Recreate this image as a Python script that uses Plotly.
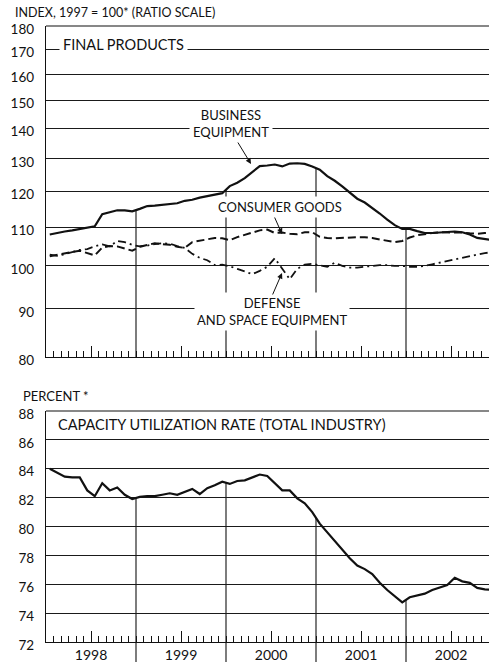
import numpy as np
import plotly.graph_objects as go

# ---------------- data ----------------
YEARS = ["1998", "1999", "2000", "2001", "2002"]
MONTHS = [f"{y}-{m:02d}" for y in YEARS for m in range(1, 13)]

BUSINESS_EQUIPMENT = [
    108.0, 108.5, 108.8, 109.1, 109.4, 109.8, 110.2, 113.5, 114.1, 114.6, 114.6, 114.3,
    115.0, 115.8, 115.9, 116.2, 116.5, 116.6, 117.3, 117.6, 118.2, 118.7, 119.1, 119.5,
    121.6, 122.6, 124.0, 125.8, 127.7, 127.9, 128.2, 127.6, 128.5, 128.6, 128.4, 127.6,
    126.6, 124.6, 123.2, 121.5, 119.6, 117.9, 116.8, 115.3, 113.7, 112.0, 110.5, 109.5,
    109.5, 108.9, 108.4, 108.4, 108.5, 108.6, 108.8, 108.6, 108.0, 107.1, 106.8, 106.5,
]
CONSUMER_GOODS = [
    102.4, 102.8, 103.2, 103.5, 103.8, 103.2, 102.6, 104.6, 105.0, 104.9, 104.4, 103.8,
    104.8, 105.3, 105.7, 105.5, 105.3, 104.8, 104.5, 106.0, 106.4, 106.8, 107.1, 107.0,
    106.5, 107.3, 107.8, 108.5, 109.1, 109.3, 108.4, 108.5, 108.2, 108.1, 108.6, 108.6,
    107.4, 107.1, 107.0, 107.1, 107.3, 107.3, 107.3, 107.1, 106.7, 106.3, 106.0, 106.3,
    107.2, 107.8, 108.2, 108.4, 108.6, 108.6, 108.6, 108.5, 108.3, 108.2, 108.4, 108.5,
]
DEFENSE_SPACE = [
    102.8, 102.5, 102.9, 103.4, 104.0, 104.2, 104.9, 105.4, 104.9, 106.3, 106.0, 105.3,
    104.9, 105.1, 105.5, 105.7, 105.6, 105.0, 104.5, 103.0, 102.0, 101.4, 100.2, 100.3,
    99.9, 99.3, 98.6, 98.0, 98.8, 99.8, 101.9, 99.2, 96.8, 99.3, 100.3, 100.5,
    100.2, 99.8, 100.8, 100.0, 99.6, 99.6, 99.8, 100.0, 100.2, 100.2, 100.0, 100.0,
    99.8, 99.8, 100.0, 100.4, 100.8, 101.3, 101.6, 102.0, 102.4, 102.8, 103.2, 103.4,
]
CAPACITY_UTILIZATION = [
    84.0, 83.7, 83.45, 83.4, 83.4, 82.5, 82.1, 83.0, 82.5, 82.7, 82.2, 81.9,
    82.05, 82.1, 82.1, 82.2, 82.3, 82.2, 82.4, 82.6, 82.25, 82.65, 82.85, 83.1,
    82.95, 83.15, 83.2, 83.4, 83.6, 83.5, 83.0, 82.5, 82.5, 81.95, 81.6, 81.0,
    80.2, 79.6, 79.0, 78.4, 77.8, 77.3, 77.05, 76.7, 76.1, 75.6, 75.2, 74.75,
    75.1, 75.2, 75.35, 75.6, 75.8, 75.95, 76.45, 76.2, 76.1, 75.75, 75.65, 75.6,
]
TOP_TICKS = [80, 90, 100, 110, 120, 130, 140, 150, 160, 170, 180]
BOTTOM_TICKS = [72, 74, 76, 78, 80, 82, 84, 86, 88]

# ---------------- geometry helpers ----------------
W, H = 489, 664
ML, MR, MT, MB = 46, 0, 26, 22
PW, PH = W - ML - MR, H - MT - MB
XMAX = PW / 7.5           # months visible (7.5 px per month)
FONT = "Lato, 'Noto Sans', sans-serif"
INK = "#111111"


def px(xp):
    return (xp - ML) / PW


def py(yp):
    return (H - MB - yp) / PH


TOP_DOM = [py(357), 1.0]
BOT_DOM = [0.0, py(411)]

x = np.arange(len(MONTHS)) + 0.5
year_bounds = [12, 24, 36, 48]

fig = go.Figure()
line_common = dict(mode="lines", hoverinfo="skip", showlegend=False)
fig.add_trace(go.Scatter(x=x, y=BUSINESS_EQUIPMENT, xaxis="x", yaxis="y",
                         line=dict(color=INK, width=2.2), **line_common))
fig.add_trace(go.Scatter(x=x, y=CONSUMER_GOODS, xaxis="x", yaxis="y",
                         line=dict(color=INK, width=2, dash="8px,4px"), **line_common))
fig.add_trace(go.Scatter(x=x, y=DEFENSE_SPACE, xaxis="x", yaxis="y",
                         line=dict(color=INK, width=1.8, dash="8px,4px,2px,4px"), **line_common))
fig.add_trace(go.Scatter(x=x, y=CAPACITY_UTILIZATION, xaxis="x2", yaxis="y2",
                         line=dict(color=INK, width=2.2), **line_common))

shapes = []
for b in year_bounds:
    top_v = float(np.interp(b, x, BUSINESS_EQUIPMENT))
    shapes.append(dict(type="line", xref="x", yref="y", x0=b, x1=b, y0=80, y1=top_v,
                       line=dict(color=INK, width=1.1), layer="below"))
    cu_v = float(np.interp(b, x, CAPACITY_UTILIZATION))
    shapes.append(dict(type="line", xref="x2", yref="y2", x0=b, x1=b, y0=72, y1=cu_v,
                       line=dict(color=INK, width=1.1), layer="below"))
    shapes.append(dict(type="line", xref="paper", yref="paper", x0=b / XMAX, x1=b / XMAX,
                       y0=0, y1=py(662), line=dict(color=INK, width=1.1)))
# top borders
shapes.append(dict(type="line", xref="paper", yref="paper", x0=0, x1=1, y0=1, y1=1,
                   line=dict(color=INK, width=1.2)))
shapes.append(dict(type="line", xref="paper", yref="paper", x0=0, x1=1, y0=BOT_DOM[1], y1=BOT_DOM[1],
                   line=dict(color=INK, width=1.2)))

xcommon = dict(range=[0, XMAX], showgrid=False, zeroline=False, showline=True,
               linecolor=INK, linewidth=1.2, ticks="inside", ticklen=11, tickwidth=1,
               tickcolor=INK, tickmode="array", tickvals=[6, 18, 30, 42, 54],
               minor=dict(ticks="inside", ticklen=6, tickwidth=1, tickcolor=INK,
                          tickmode="linear", tick0=0, dtick=1, showgrid=False),
               fixedrange=True)
ycommon = dict(showgrid=True, gridcolor="#1a1a1a", gridwidth=1, zeroline=False,
               showline=True, linecolor=INK, linewidth=1.2, ticks="",
               tickfont=dict(family=FONT, size=13.5, color=INK), ticklabelstandoff=8,
               tickmode="array", fixedrange=True)

fig.update_layout(
    width=W, height=H,
    margin=dict(l=ML, r=MR, t=MT, b=MB, pad=0),
    paper_bgcolor="white", plot_bgcolor="white",
    font=dict(family=FONT, color=INK, size=13),
    xaxis=dict(anchor="y", showticklabels=False, **xcommon),
    xaxis2=dict(anchor="y2", showticklabels=True, ticktext=YEARS,
                tickfont=dict(family=FONT, size=14, color=INK), **xcommon),
    yaxis=dict(domain=TOP_DOM, anchor="x", type="log",
               range=[np.log10(80), np.log10(180)], tickvals=TOP_TICKS,
               ticktext=[str(v) for v in TOP_TICKS], ticklabelshift=3, **ycommon),
    yaxis2=dict(domain=BOT_DOM, anchor="x2", range=[72, 88], tickvals=BOTTOM_TICKS,
                ticktext=[str(v) for v in BOTTOM_TICKS], ticklabelshift=3, **ycommon),
    shapes=shapes,
    hovermode=False,
)

ann = []


def text(t, xp, yp, xanchor="left", size=13, bg=None, align="left", pad=1):
    d = dict(text=t, x=px(xp), y=py(yp), xref="paper", yref="paper",
             xanchor=xanchor, yanchor="middle", showarrow=False, align=align,
             font=dict(family=FONT, size=size, color=INK), borderpad=pad)
    if bg:
        d["bgcolor"] = bg
    ann.append(d)


def arrow(tail, tip):
    ann.append(dict(text="", x=px(tip[0]), y=py(tip[1]), xref="paper", yref="paper",
                    ax=tail[0] - tip[0], ay=tail[1] - tip[1], axref="pixel", ayref="pixel",
                    showarrow=True, arrowhead=2, arrowsize=1.1, arrowwidth=1, arrowcolor=INK,
                    standoff=0, startstandoff=0))


text("INDEX, 1997 = 100* (RATIO SCALE)", 13, 12, size=12.5)
text("FINAL PRODUCTS", 59, 44, size=14.5, bg="white", pad=3)
text("BUSINESS<br>EQUIPMENT", 231, 124, xanchor="center", size=13, bg="white",
     align="center", pad=3)
text("CONSUMER GOODS", 280, 207, xanchor="center", size=13, bg="white", pad=2)
text("DEFENSE<br>AND SPACE EQUIPMENT", 272, 311, xanchor="center", size=13, bg="white",
     align="center", pad=2)
text("PERCENT *", 21, 396, size=13)
text("CAPACITY UTILIZATION RATE (TOTAL INDUSTRY)", 56, 424, size=14.5)

arrow((237, 141), (251, 164))
arrow((274, 216), (282, 234))
arrow((272, 296), (282, 273))

fig.update_layout(annotations=ann)
fig.write_html(
    "out.html",
    config={"displayModeBar": False, "staticPlot": True},
    post_script="document.documentElement.style.margin='0';"
                "document.body.style.margin='0';document.body.style.padding='0';"
                "document.body.style.overflow='hidden';",
)
